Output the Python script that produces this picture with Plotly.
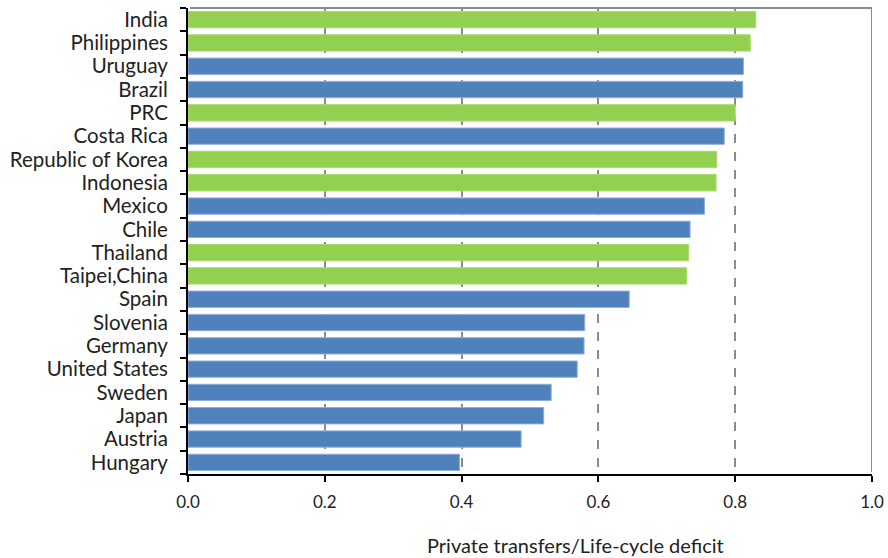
import plotly.graph_objects as go

countries = ["India", "Philippines", "Uruguay", "Brazil", "PRC", "Costa Rica",
             "Republic of Korea", "Indonesia", "Mexico", "Chile", "Thailand",
             "Taipei,China", "Spain", "Slovenia", "Germany", "United States",
             "Sweden", "Japan", "Austria", "Hungary"]
values = [0.830, 0.822, 0.812, 0.811, 0.800, 0.784, 0.773, 0.772, 0.755, 0.734,
          0.732, 0.729, 0.645, 0.580, 0.579, 0.569, 0.531, 0.520, 0.487, 0.397]
asian = [True, True, False, False, True, False, True, True, False, False,
         True, True, False, False, False, False, False, False, False, False]
x_ticks = [0.0, 0.2, 0.4, 0.6, 0.8, 1.0]
x_labels = ["0.0", "0.2", "0.4", "0.6", "0.8", "1.0"]

GREEN = "#92D050"
BLUE = "#4F81BD"
colors = [GREEN if a else BLUE for a in asian]
lines = ["#A9D86E" if a else "#8EAEDA" for a in asian]

fig = go.Figure(go.Bar(
    x=values, y=countries, orientation="h",
    marker=dict(color=colors, line=dict(color=lines, width=1)),
))

fig.update_layout(
    width=888, height=558,
    margin=dict(l=188, r=16, t=8, b=84),
    plot_bgcolor="white", paper_bgcolor="white",
    bargap=0.3, showlegend=False,
    font=dict(family="Lato", size=19, color="#222222"),
)
fig.update_xaxes(
    range=[0, 1.0], tickvals=x_ticks, ticktext=x_labels,
    showgrid=True, gridcolor="#8c8c8c", griddash="dash", gridwidth=1.5,
    zeroline=False, automargin=False,
    showline=True, linecolor="black", linewidth=2, mirror=False,
    ticks="outside", ticklen=6, tickcolor="black", tickwidth=2,
    tickfont=dict(size=17), ticklabelstandoff=6,
)
fig.update_yaxes(
    categoryorder="array", categoryarray=countries[::-1],
    tickmode="linear", tick0=0, dtick=1,
    showline=True, linecolor="black", linewidth=2, automargin=False,
    ticks="outside", ticklen=6, tickcolor="black", tickwidth=2,
    tickson="boundaries", showgrid=False,
    tickfont=dict(size=20.5), ticklabelstandoff=14,
)
# gray top and right frame
fig.add_shape(type="line", xref="x", yref="y domain", x0=0.003, x1=1, y0=1, y1=1,
              layer="above", line=dict(color="#8c8c8c", width=2))
fig.add_shape(type="line", xref="x", yref="y domain", x0=1, x1=1, y0=0.004, y1=1,
              layer="above", line=dict(color="#8c8c8c", width=2))
fig.add_annotation(text="Private transfers/Life-cycle deficit",
                   xref="paper", yref="paper", x=0.566, y=0, yshift=-71,
                   xanchor="center", yanchor="middle", showarrow=False,
                   font=dict(size=20, color="#222222"))

fig.write_html("out.html", config={"displayModeBar": False},
               post_script="document.body.style.margin='0';")
